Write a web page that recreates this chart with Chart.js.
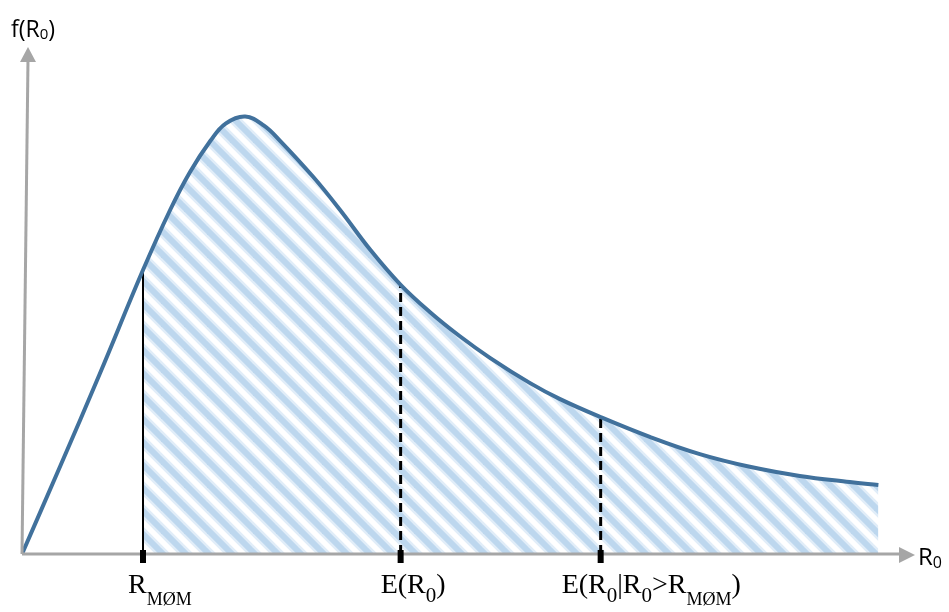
<!DOCTYPE html>
<html>
<head>
<meta charset="utf-8">
<script src="https://cdn.jsdelivr.net/npm/chart.js@4/dist/chart.umd.min.js"></script>
<style>
    html, body { margin: 0; padding: 0; background: #fff; }
    canvas { display: block; }
</style>
</head>
<body>
<canvas id="grafico" width="949" height="612"></canvas>
<script>
// density curve f(R0) (R0 in 0..10, f in 0..1)
const curveX = [0, 0.43, 0.87, 1.355, 1.66, 1.88, 2.11, 2.28, 2.50, 2.71, 2.89, 3.26, 3.56, 3.90, 4.24, 4.57, 4.90, 5.24, 5.69, 6.02, 6.48, 7.03, 7.59, 8.15, 8.71, 9.27, 9.59];
const curveY = [0, 0.174, 0.355, 0.560, 0.679, 0.753, 0.815, 0.849, 0.863, 0.845, 0.815, 0.744, 0.679, 0.600, 0.531, 0.477, 0.430, 0.387, 0.337, 0.306, 0.270, 0.231, 0.197, 0.172, 0.154, 0.142, 0.136];

// marked points on the R0 axis
const markerX = [1.355, 4.24, 6.48];
const markerTop = [0.560, 0.531, 0.270];
const markerDash = [[], [9, 5], [9, 5]];
// label pieces: 0 = normal, 1 = subscript digit, 2 = subscript letters
const markerLabels = [
    [["R", 0], ["MØM", 2]],
    [["E(R", 0], ["0", 1], [")", 0]],
    [["E(R", 0], ["0", 1], ["|R", 0], ["0", 1], [">R", 0], ["MØM", 2], [")", 0]]
];
const yTitle = [["f(R", 0], ["0", 1], [")", 0]];
const xTitle = [["R", 0], ["0", 1]];

const canvas = document.getElementById("grafico");
const ctx = canvas.getContext("2d");

function hachura() {
    const s = 23;
    const c = document.createElement("canvas");
    c.width = s;
    c.height = s;
    const g = c.getContext("2d");
    [["#e1edf8", 11], ["#bdd7ee", 6]].forEach(([cor, larg]) => {
        g.strokeStyle = cor;
        g.lineWidth = larg;
        for (let k = -1; k <= 1; k++) {
            g.beginPath();
            g.moveTo(k * s - 6, -6);
            g.lineTo(k * s + s + 6, s + 6);
            g.stroke();
        }
    });
    return ctx.createPattern(c, "repeat");
}

const pontos = curveX.map((x, i) => ({ x, y: curveY[i] }));
const areaPontos = pontos.filter(p => p.x >= markerX[0]);

function escreve(c, partes, x, base, estilos) {
    partes.forEach(([t, tipo]) => {
        const e = estilos[tipo];
        c.font = e.font;
        c.fillText(t, x, base + e.dy);
        x += c.measureText(t).width;
    });
}

const eixosPlugin = {
    id: "eixosPlugin",
    afterDatasetsDraw(chart) {
        const { ctx: c, chartArea, scales } = chart;
        const x0 = scales.x.getPixelForValue(0);
        const y0 = scales.y.getPixelForValue(0);
        c.save();
        c.strokeStyle = "#a6a6a6";
        c.fillStyle = "#a6a6a6";
        c.lineWidth = 3;
        // x axis
        c.beginPath();
        c.moveTo(x0, y0);
        c.lineTo(chartArea.right - 12, y0);
        c.stroke();
        c.beginPath();
        c.moveTo(chartArea.right, y0 + 1);
        c.lineTo(chartArea.right - 16, y0 - 7);
        c.lineTo(chartArea.right - 16, y0 + 9);
        c.closePath();
        c.fill();
        // y axis (leans a little to the right like the original)
        const lean = 6;
        c.beginPath();
        c.moveTo(x0, y0);
        c.lineTo(x0 + lean, chartArea.top + 12);
        c.stroke();
        c.beginPath();
        c.moveTo(x0 + lean, chartArea.top);
        c.lineTo(x0 + lean - 8, chartArea.top + 15);
        c.lineTo(x0 + lean + 8, chartArea.top + 15);
        c.closePath();
        c.fill();

        // ticks and labels
        c.fillStyle = "#000";
        c.textBaseline = "alphabetic";
        const serif = "'Liberation Serif', 'Times New Roman', serif";
        const estilos = {
            0: { font: `28px ${serif}`, dy: 0 },
            1: { font: `21px ${serif}`, dy: 9 },
            2: { font: `18px ${serif}`, dy: 12 }
        };
        const recuo = [15, 20, 39];
        markerX.forEach((v, i) => {
            const px = scales.x.getPixelForValue(v);
            c.fillRect(px - 3, y0 - 4, 6, 13);
            escreve(c, markerLabels[i], px - recuo[i], y0 + 39, estilos);
        });
        const sans = "'Open Sans', 'Liberation Sans', sans-serif";
        escreve(c, yTitle, 11, 37, {
            0: { font: `23px ${sans}`, dy: 0 },
            1: { font: `15px ${sans}`, dy: 2 }
        });
        escreve(c, xTitle, chartArea.right + 3, y0 + 11, {
            0: { font: `24px ${sans}`, dy: 0 },
            1: { font: `16px ${sans}`, dy: 3 }
        });
        c.restore();
    }
};

const datasets = [
    {
        label: "f(R0)",
        data: pontos,
        showLine: true,
        borderColor: "#41719c",
        borderWidth: 4,
        pointRadius: 0,
        tension: 0.4,
        fill: false,
        order: 0
    }
];

markerX.forEach((v, i) => {
    datasets.push({
        label: "marcador " + i,
        data: [{ x: v, y: 0 }, { x: v, y: markerTop[i] }],
        showLine: true,
        borderColor: "#000",
        borderWidth: i === 0 ? 2 : 3,
        borderDash: markerDash[i],
        pointRadius: 0,
        fill: false,
        order: 1
    });
});

datasets.push({
    label: "área",
    data: areaPontos,
    showLine: true,
    borderWidth: 0,
    borderColor: "rgba(0,0,0,0)",
    backgroundColor: hachura(),
    pointRadius: 0,
    tension: 0.4,
    fill: "origin",
    order: 2
});

new Chart(ctx, {
    type: "scatter",
    data: { datasets },
    options: {
        responsive: false,
        animation: false,
        layout: { padding: { left: 22, right: 34, top: 47, bottom: 58 } },
        plugins: {
            legend: { display: false },
            tooltip: { enabled: false }
        },
        scales: {
            x: { type: "linear", min: 0, max: 10, display: false },
            y: { type: "linear", min: 0, max: 1, display: false }
        }
    },
    plugins: [eixosPlugin]
});
</script>
</body>
</html>
